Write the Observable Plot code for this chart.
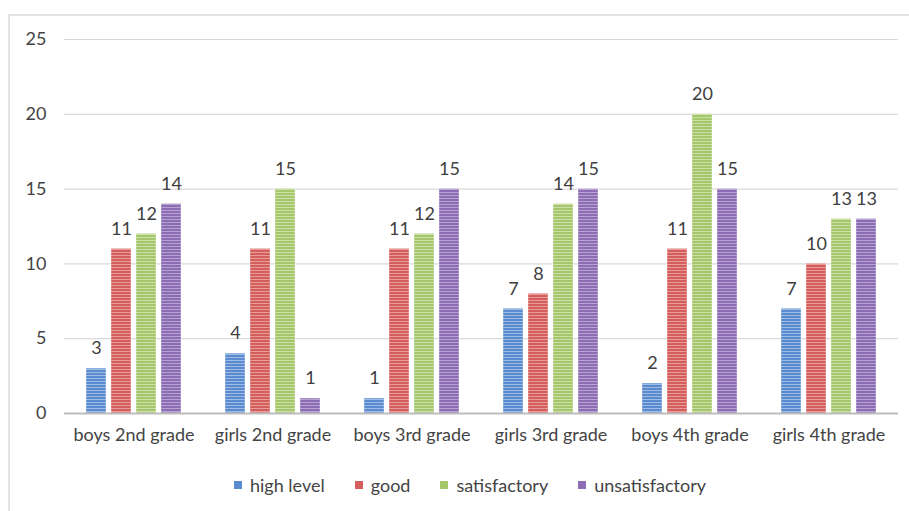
<!DOCTYPE html>
<html>
<head>
<meta charset="utf-8">
<script src="https://cdn.jsdelivr.net/npm/d3@7"></script>
<script src="https://cdn.jsdelivr.net/npm/@observablehq/plot@0.6"></script>
<style>
  html, body { margin: 0; padding: 0; background: #fff; }
  body { width: 909px; height: 511px; position: relative; overflow: hidden; font-family: Lato, "Open Sans", sans-serif; }
  #frame { position: absolute; left: 8px; top: 14px; width: 920px; height: 520px; border-left: 2px solid #e3e3e3; border-top: 2px solid #e3e3e3; }
  #chart { position: absolute; left: 0; top: 0; }
  #legend { position: absolute; left: 0; top: 474px; width: 940px; display: flex; justify-content: center; gap: 30px; font-size: 18px; color: #444; }
  #legend span.item { display: inline-flex; align-items: center; }
  #legend span.sw { display: inline-block; width: 8px; height: 8px; margin-right: 8px; }
</style>
</head>
<body>
<svg width="0" height="0" style="position:absolute">
  <defs id="pats"></defs>
</svg>
<div id="frame"></div>
<div id="chart"></div>
<div id="legend"></div>
<script>
const categories = ["boys 2nd grade", "girls 2nd grade", "boys 3rd grade", "girls 3rd grade", "boys 4th grade", "girls 4th grade"];
const series = ["high level", "good", "satisfactory", "unsatisfactory"];
const highLevel = [3, 4, 1, 7, 2, 7];
const good = [11, 11, 11, 8, 11, 10];
const satisfactory = [12, 15, 12, 14, 20, 13];
const unsatisfactory = [14, 1, 15, 15, 15, 13];
const yTicks = [0, 5, 10, 15, 20, 25];

const baseColors = ["#5b8bcf", "#d35e5b", "#a5c66a", "#8c6db4"];
const lightColors = ["#9dbbe6", "#e89b99", "#cbe0a4", "#b7a3d3"];

// build stripe patterns
const defs = document.getElementById("pats");
const NS = "http://www.w3.org/2000/svg";
baseColors.forEach((c, i) => {
  const p = document.createElementNS(NS, "pattern");
  p.setAttribute("id", "pat" + i);
  p.setAttribute("patternUnits", "userSpaceOnUse");
  p.setAttribute("width", "4");
  p.setAttribute("height", "3");
  const r1 = document.createElementNS(NS, "rect");
  r1.setAttribute("width", "4"); r1.setAttribute("height", "3"); r1.setAttribute("fill", c);
  const r2 = document.createElementNS(NS, "rect");
  r2.setAttribute("width", "4"); r2.setAttribute("height", "1"); r2.setAttribute("fill", lightColors[i]);
  p.appendChild(r1); p.appendChild(r2);
  defs.appendChild(p);
});

const valuesBySeries = [highLevel, good, satisfactory, unsatisfactory];
const data = [];
categories.forEach((cat, ci) => {
  series.forEach((s, si) => {
    data.push({category: cat, series: s, value: valuesBySeries[si][ci]});
  });
});

const plot = Plot.plot({
  width: 909,
  height: 460,
  marginLeft: 63,
  marginRight: 11,
  marginTop: 39,
  marginBottom: 47,
  style: {fontFamily: "Lato, 'Open Sans', sans-serif", fontSize: "18px", color: "#444", background: "transparent"},
  fx: {domain: categories, padding: 0, label: null, tickSize: 0, tickPadding: 15},
  x: {domain: series, axis: null, paddingInner: 0.2, paddingOuter: 0.88},
  y: {domain: [0, 25], ticks: yTicks, label: null, tickSize: 0, tickPadding: 18},
  color: {domain: series, range: series.map((s, i) => `url(#pat${i})`)},
  marks: [
    Plot.ruleY(yTicks.filter(t => t > 0), {stroke: "#d9d9d9", strokeWidth: 1.2}),
    Plot.barY(data, {fx: "category", x: "series", y: "value", fill: "series", stroke: "#ffffff", strokeOpacity: 0.35, strokeWidth: 1}),
    Plot.text(data, {fx: "category", x: "series", y: "value", text: d => String(d.value), dy: -20, fill: "#404040", fontSize: 18}),
    Plot.ruleY([0], {stroke: "#bdbdbd", strokeWidth: 2})
  ]
});
document.getElementById("chart").appendChild(plot);

const legend = document.getElementById("legend");
series.forEach((s, i) => {
  const item = document.createElement("span");
  item.className = "item";
  const sw = document.createElement("span");
  sw.className = "sw";
  sw.style.background = baseColors[i];
  item.appendChild(sw);
  item.appendChild(document.createTextNode(s));
  legend.appendChild(item);
});
</script>
</body>
</html>
